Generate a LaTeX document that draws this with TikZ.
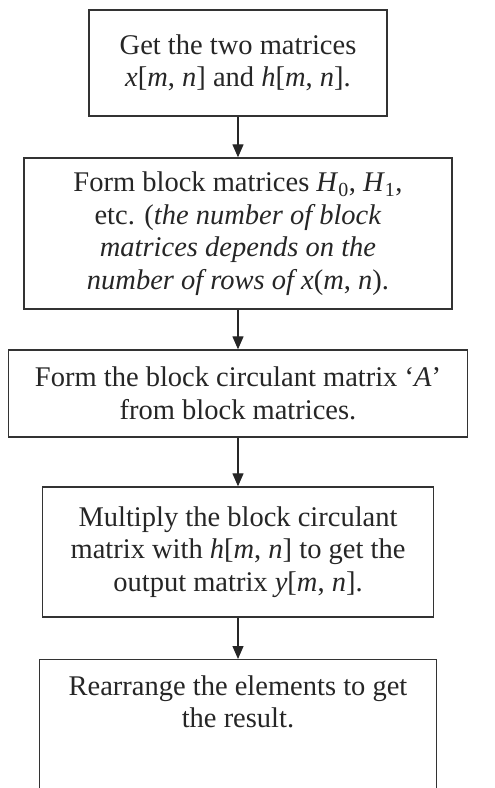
\documentclass[tikz,border=0pt]{standalone}
\usepackage{fontspec}
\setmainfont{Liberation Serif}
\usetikzlibrary{arrows.meta}

\tikzset{
  stepbox/.style={draw=black!80, line width=1.3pt, text=black!85, inner sep=0pt,
    align=center, font=\fontsize{28.5}{32.5}\selectfont},
  flowarrow/.style={draw=black!85, line width=1.2pt, -{Triangle[length=13pt,width=11pt]}}
}

\begin{document}
\begin{tikzpicture}[x=1pt,y=1pt,yscale=-1,xscale=1]
\useasboundingbox (0,0) rectangle (495,788);
\clip (0,0) rectangle (495,788);
% steps
\node[stepbox, minimum width=298pt, minimum height=106pt] (get) at (238,63)
  {Get the two matrices\\ \textit{x}[\textit{m}, \textit{n}] and \textit{h}[\textit{m}, \textit{n}].};
\node[stepbox, minimum width=428pt, minimum height=151pt] (form) at (238,233.5)
  {Form block matrices \textit{H}\textsubscript{0}, \textit{H}\textsubscript{1},\\
   etc. (\textit{the number of block}\\
   \textit{matrices depends on the}\\
   \textit{number of rows of x}(\textit{m}, \textit{n}).};
\node[stepbox, minimum width=459pt, minimum height=87pt] (circ) at (238,393.5)
  {Form the block circulant matrix ‘\textit{A}’\\ from block matrices.};
\node[stepbox, minimum width=391pt, minimum height=130pt] (mult) at (238,552)
  {Multiply the block circulant\\ matrix with \textit{h}[\textit{m}, \textit{n}] to get the\\
   output matrix \textit{y}[\textit{m}, \textit{n}].};
% last box runs off the page
\node[stepbox, minimum width=397pt, inner ysep=16pt, text depth=160pt, anchor=north] (rearr) at (238,659)
  {Rearrange the elements to get\\ the result.};
% arrows
\draw[flowarrow] (get) -- (form);
\draw[flowarrow] (form) -- (circ);
\draw[flowarrow] (circ) -- (mult);
\draw[flowarrow] (mult) -- (rearr);
\end{tikzpicture}
\end{document}
